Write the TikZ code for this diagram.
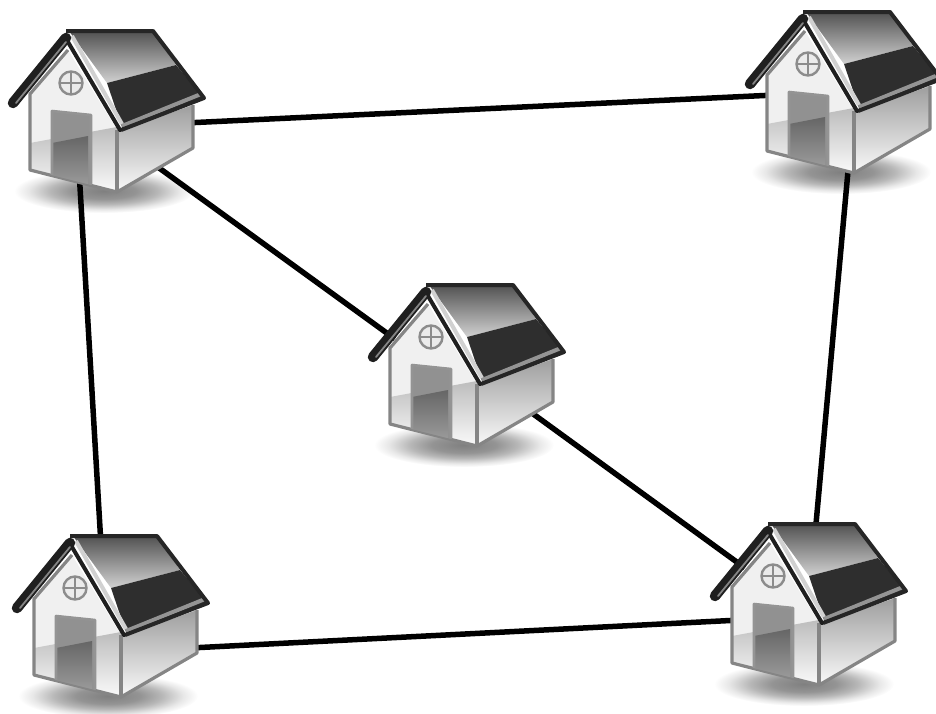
\documentclass[tikz,border=0pt]{standalone}
\usetikzlibrary{positioning}
\pgfdeclareradialshading{softshadow}{\pgfpoint{0bp}{0bp}}{color(0bp)=(black!50); color(9bp)=(black!42); color(15bp)=(black!28); color(21bp)=(black!9); color(25bp)=(white); color(50bp)=(white)}
\definecolor{wallL}{gray}{0.52}
\tikzset{
  link/.style={draw=black,line width=5.5pt},
  port/.style={inner sep=0pt,minimum size=0pt},
  wallline/.style={draw=wallL,line width=3.2pt,line join=round},
  houseshadow/.pic={
    \shade[shading=softshadow] (104,191) ellipse [x radius=90pt,y radius=22pt];
  },
  housebody/.pic={
    % walls
    \fill[black!6] (68,50) -- (30,94) -- (30,170) -- (117,192) -- (117,130) -- cycle;
    \shade[top color=black!26,bottom color=black!2] (30,143) -- (117,127) -- (117,192) -- (30,170) -- cycle;
    \shade[top color=black!38,bottom color=black!2] (117,132) -- (193,105) -- (193,148) -- (117,192) -- cycle;
    \draw[wallline] (68,50) -- (30,94) -- (30,170) -- (117,192) -- (193,148) -- (193,105);
    \draw[wallline] (117,130) -- (117,192);
    % door
    \fill[black!43] (52,111) -- (91,115) -- (91,185) -- (52,175) -- cycle;
    \shade[top color=black!60,bottom color=black!40] (52,143) -- (88,136) -- (88,184) -- (52,175) -- cycle;
    \draw[draw=black!42,line width=2.6pt,line join=round] (52,175) -- (52,111) -- (91,115) -- (91,185);
    % window
    \draw[draw=black!45,line width=2.4pt,fill=black!8] (71,83) circle [radius=11.5pt];
    \draw[draw=black!45,line width=2pt] (71,71.5) -- (71,94.5) (59.5,83) -- (82.5,83);
    % roof panel
    \shade[top color=black!68,bottom color=black!18] (69,31) -- (153,31) -- (176,65) -- (107,83) -- cycle;
    \fill[black!82] (107,83) -- (176,65) -- (203,97) -- (123,130) -- cycle;
    % light trim
    \draw[draw=black!42,line width=4pt] (122,126) -- (201,94);
    \draw[draw=black!18,line width=4pt] (72,36) -- (122,124);
    % outline
    \draw[draw=black!85,line width=4pt,line join=round] (121,130) -- (204,98) -- (153,31) -- (66,31);
    \draw[draw=black!88,line width=4pt,line cap=round] (68,42) -- (120,130);
    % left gable band
    \draw[draw=black!88,line width=10.5pt,line cap=round] (13,103) -- (66,38);
    \draw[draw=black!48,line width=1.8pt,line cap=round] (16,103) -- (66,42);
  }
}
\begin{document}
\begin{tikzpicture}[x=1pt,y=-1pt]
\useasboundingbox (0,0) rectangle (936,713);
% shadows under everything
\pic at (0,0) {houseshadow};
\pic at (737,-19) {houseshadow};
\pic at (360,254) {houseshadow};
\pic at (4,505) {houseshadow};
\pic at (700,493) {houseshadow};
% ports
\node[port] (a1) at (185,123) {};
\node[port] (a2) at (775,95) {};
\node[port] (b1) at (155,165) {};
\node[port] (b2) at (395,339) {};
\node[port] (c1) at (79,170) {};
\node[port] (c2) at (101,545) {};
\node[port] (d1) at (849,160) {};
\node[port] (d2) at (815,535) {};
\node[port] (e1) at (525,408) {};
\node[port] (e2) at (745,568) {};
\node[port] (f1) at (190,648) {};
\node[port] (f2) at (740,620) {};
\draw[link] (a1) -- (a2);
\draw[link] (b1) -- (b2);
\draw[link] (c1) -- (c2);
\draw[link] (d1) -- (d2);
\draw[link] (e1) -- (e2);
\draw[link] (f1) -- (f2);
% houses
\pic at (0,0) {housebody};
\pic at (737,-19) {housebody};
\pic at (360,254) {housebody};
\pic at (4,505) {housebody};
\pic at (702,493) {housebody};
\end{tikzpicture}
\end{document}
